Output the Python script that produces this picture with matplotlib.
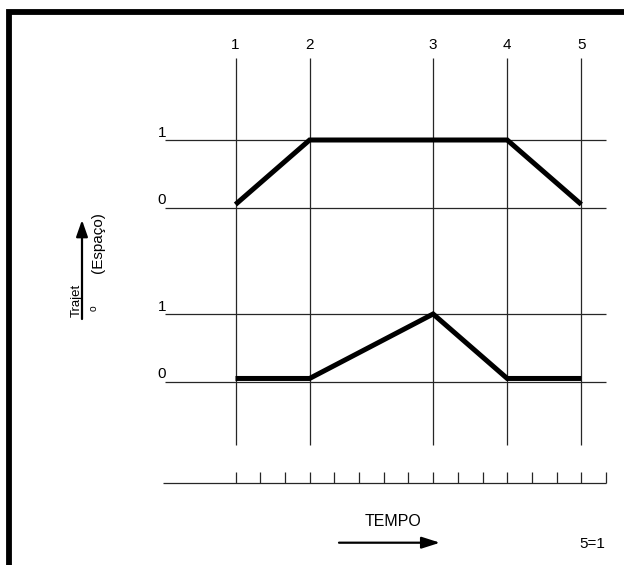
import matplotlib
matplotlib.use("Agg")
import numpy as np
import matplotlib.pyplot as plt

# Event instants (in small time-tick units) and their labels
EVENT_T = [0, 3, 8, 11, 14]
EVENT_LABELS = ["1", "2", "3", "4", "5"]
N_TICKS = 16

# Upper curve: position vs time
UPPER_T = [0, 3, 11, 14]
UPPER_V = [0, 1, 1, 0]

# Lower curve
LOWER_T = [0, 3, 8, 11, 14]
LOWER_V = [0, 0, 1, 0, 0]

LEVEL_LABELS = ["0", "1"]

# Layout (pixels / units)
W, H = 624, 565
X0, DX = 235.5, 24.7          # pixel of t=0, pixels per time unit
Y0, DY = 381.5, 67.5          # pixel of lower baseline, pixels per level unit
UPPER_BASE = (381.5 - 207.5) / DY
LOWER_BASE = 0.0
CURVE_LIFT = 0.045

plt.rcParams["font.family"] = ["Liberation Sans", "DejaVu Sans"]

fig = plt.figure(figsize=(W / 100, H / 100), dpi=100)

# decoration axes in pixel coordinates
deco = fig.add_axes([0, 0, 1, 1])
deco.set_xlim(0, W)
deco.set_ylim(H, 0)
deco.axis("off")

# data axes: x in time units, y in level units
ax = fig.add_axes([0, 0, 1, 1])
ax.set_xlim(-X0 / DX, (W - X0) / DX)
ax.set_ylim((Y0 - H) / DY, Y0 / DY)
ax.axis("off")

def py(p):
    return (Y0 - p) / DY

def px(p):
    return (p - X0) / DX

grid_kw = dict(color="#262626", lw=0.9, solid_capstyle="butt")

# vertical event lines and labels
for t, lab in zip(EVENT_T, EVENT_LABELS):
    ax.plot([t, t], [py(58), py(445)], **grid_kw)
    ax.text(t, py(45), lab, ha="center", va="center", fontsize=11)

# horizontal level lines
for base in (UPPER_BASE, LOWER_BASE):
    for v, lab in enumerate(LEVEL_LABELS):
        ax.plot([px(165), 15], [base + v, base + v], **grid_kw)
        ax.text(px(166), base + v + 0.005, lab, ha="right", va="bottom", fontsize=11)

# curves
ax.plot(UPPER_T, UPPER_BASE + CURVE_LIFT + np.array(UPPER_V) * (1 - CURVE_LIFT),
        color="black", lw=3.6, solid_joinstyle="miter", solid_capstyle="butt")
ax.plot(LOWER_T, LOWER_BASE + CURVE_LIFT + np.array(LOWER_V) * (1 - CURVE_LIFT),
        color="black", lw=3.6, solid_joinstyle="miter", solid_capstyle="butt")

# time axis with ticks
ty = py(483)
ax.plot([px(163), N_TICKS - 1], [ty, ty], **grid_kw)
for k in range(N_TICKS):
    ax.plot([k, k], [ty, ty + 11 / DY], **grid_kw)

# frame (left and top thick border)
deco.plot([9.3, 9.3, W], [H, 11.5, 11.5], color="black", lw=4.2,
          solid_joinstyle="miter", solid_capstyle="butt")

# left vertical label with arrow
deco.annotate("", xy=(82, 220), xytext=(82, 319),
              arrowprops=dict(arrowstyle="-|>,head_length=1.0,head_width=0.35",
                              color="black", lw=1.6, shrinkA=0, shrinkB=0))
deco.text(76.5, 300, "Trajet", rotation=90, ha="center", va="center", fontsize=9.5)
deco.text(98, 243, "(Espaço)", rotation=90, ha="center", va="center", fontsize=11)
deco.text(94, 308, "o", rotation=90, ha="center", va="center", fontsize=7.5)

# TEMPO arrow
deco.text(393, 522, "TEMPO", ha="center", va="center", fontsize=11.5)
deco.annotate("", xy=(440, 542.7), xytext=(339, 542.7),
              arrowprops=dict(arrowstyle="-|>,head_length=1.1,head_width=0.35",
                              color="black", lw=1.6, shrinkA=0, shrinkB=0))
deco.text(592, 544, "5=1", ha="center", va="center", fontsize=11)

fig.savefig("out.png", dpi=100)
